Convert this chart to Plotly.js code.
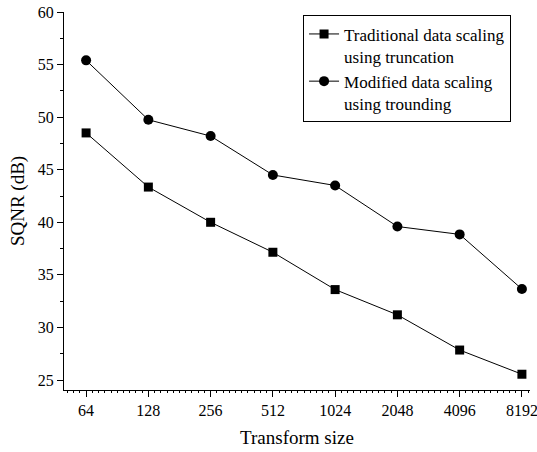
<!DOCTYPE html>
<html>
<head>
<meta charset="utf-8">
<script src="https://cdn.plot.ly/plotly-3.0.1.min.js"></script>
<style>html,body{margin:0;padding:0;background:#fff;}#chart{width:537px;height:452px;}</style>
</head>
<body>
<div id="chart"></div>
<script>
const categories = ['64','128','256','512','1024','2048','4096','8192'];
const traditional = [48.5, 43.35, 40.0, 37.15, 33.6, 31.2, 27.85, 25.55];
const modified = [55.4, 49.75, 48.2, 44.5, 43.5, 39.6, 38.85, 33.65];
const nameTraditional = 'Traditional data scaling<br>using truncation';
const nameModified = 'Modified data scaling<br>using trounding';
const yTicks = [25, 30, 35, 40, 45, 50, 55, 60];

const xPos = categories.map((c, i) => i);
const fam = 'Liberation Serif, Times New Roman, serif';

const traces = [
  {x: xPos, y: traditional, name: nameTraditional, type: 'scatter', mode: 'lines+markers',
   line: {color: '#000', width: 1}, marker: {symbol: 'square', size: 9, color: '#000'}},
  {x: xPos, y: modified, name: nameModified, type: 'scatter', mode: 'lines+markers',
   line: {color: '#000', width: 1}, marker: {symbol: 'circle', size: 10, color: '#000'}}
];

const layout = {
  width: 537, height: 452,
  margin: {l: 64, r: 7, t: 11.5, b: 62},
  paper_bgcolor: '#fff', plot_bgcolor: '#fff',
  font: {family: fam, size: 16, color: '#000'},
  showlegend: true,
  legend: {x: 0.513, y: 0.991, xanchor: 'left', yanchor: 'top', valign: 'top',
    bordercolor: '#000', borderwidth: 1, bgcolor: '#fff',
    font: {family: fam, size: 17, color: '#000'}, tracegroupgap: 0},
  xaxis: {
    type: 'linear', range: [-0.355, 7.13],
    tickvals: xPos, ticktext: categories,
    ticks: 'outside', ticklen: 6, tickwidth: 1, tickcolor: '#000',
    ticklabeloverflow: 'allow',
    showline: true, linecolor: '#000', linewidth: 1,
    showgrid: false, zeroline: false,
    minor: {dtick: 0.1, ticks: 'outside', ticklen: 2, tickcolor: '#000', tickwidth: 1, showgrid: false},
    tickfont: {family: fam, size: 16, color: '#000'},
    title: {text: 'Transform size', font: {family: fam, size: 19, color: '#000'}, standoff: 12}
  },
  yaxis: {
    range: [24.05, 60],
    tickvals: yTicks,
    ticks: 'outside', ticklen: 6, tickwidth: 1, tickcolor: '#000',
    showline: true, linecolor: '#000', linewidth: 1,
    showgrid: false, zeroline: false,
    minor: {dtick: 2.5, ticks: 'outside', ticklen: 3, tickcolor: '#000', tickwidth: 1, showgrid: false},
    tickfont: {family: fam, size: 16, color: '#000'},
    title: {text: 'SQNR (dB)', font: {family: fam, size: 19, color: '#000'}, standoff: 8}
  }
};

Plotly.newPlot('chart', traces, layout, {displayModeBar: false, responsive: false});
</script>
</body>
</html>
